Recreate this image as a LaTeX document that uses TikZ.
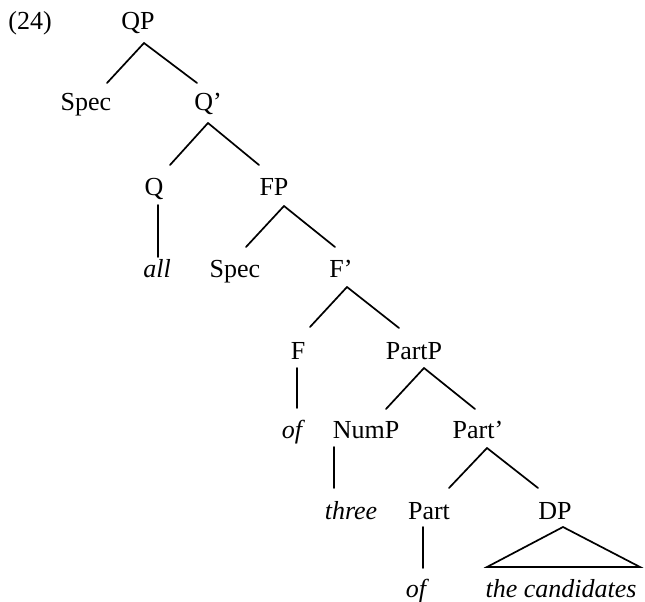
\documentclass[tikz,border=0pt]{standalone}
\usepackage{fontspec}
\setmainfont{Liberation Serif}
\usetikzlibrary{calc}
\begin{document}
\begin{tikzpicture}[x=1pt,y=-1pt,
  lbl/.style={anchor=base,inner sep=0pt,font=\fontsize{26}{30}\selectfont},
  lex/.style={lbl,font=\fontsize{26}{30}\selectfont\itshape},
  edge/.style={line width=1.7pt,line cap=round,line join=miter}]
\useasboundingbox (0,0) rectangle (645,602);
% labels
\node[lbl] (n24) at (30,30) {(24)};
\node[lbl] (QP) at (138,30) {QP};
\node[lbl] (Spec1) at (86,110) {Spec};
\node[lbl] (Qb) at (208,110) {Q’};
\node[lbl] (Q) at (154,195) {Q};
\node[lbl] (FP) at (274,195) {FP};
\node[lex] (all) at (157,277) {all};
\node[lbl] (Spec2) at (235,277) {Spec};
\node[lbl] (Fb) at (341,277) {F’};
\node[lbl] (F) at (298,359) {F};
\node[lbl] (PartP) at (414,359) {PartP};
\node[lex] (of1) at (292,438) {of};
\node[lbl] (NumP) at (366,438) {NumP};
\node[lbl] (Partb) at (478,438) {Part’};
\node[lex] (three) at (351,519) {three};
\node[lbl] (Part) at (429,519) {Part};
\node[lbl] (DP) at (555,519) {DP};
\node[lex] (of2) at (416,597) {of};
\node[lex] (cands) at (561,597) {the candidates};
% connectors
\draw[edge] ($(QP.base)+(6,13)$) -- ($(Spec1.base)+(21,-27)$);
\draw[edge] ($(QP.base)+(6,13)$) -- ($(Qb.base)+(-11,-27)$);
\draw[edge] ($(Qb.base)+(0,13)$) -- ($(Q.base)+(16,-30)$);
\draw[edge] ($(Qb.base)+(0,13)$) -- ($(FP.base)+(-15,-30)$);
\draw[edge] ($(Q.base)+(4,10)$) -- ($(all.base)+(1,-20)$);
\draw[edge] ($(FP.base)+(10,11)$) -- ($(Spec2.base)+(11,-30)$);
\draw[edge] ($(FP.base)+(10,11)$) -- ($(Fb.base)+(-6,-30)$);
\draw[edge] ($(Fb.base)+(6,10)$) -- ($(F.base)+(12,-32)$);
\draw[edge] ($(Fb.base)+(6,10)$) -- ($(PartP.base)+(-15,-31)$);
\draw[edge] ($(F.base)+(-1,9)$) -- ($(of1.base)+(5,-30)$);
\draw[edge] ($(PartP.base)+(10,9)$) -- ($(NumP.base)+(20,-29)$);
\draw[edge] ($(PartP.base)+(10,9)$) -- ($(Partb.base)+(-3,-29)$);
\draw[edge] ($(NumP.base)+(-32,9)$) -- ($(three.base)+(-17,-31)$);
\draw[edge] ($(Partb.base)+(9,10)$) -- ($(Part.base)+(20,-31)$);
\draw[edge] ($(Partb.base)+(9,10)$) -- ($(DP.base)+(-17,-31)$);
\draw[edge] ($(Part.base)+(-6,8)$) -- ($(of2.base)+(7,-29)$);
\draw[edge] ($(DP.base)+(8,8)$) -- ($(cands.base)+(-74,-30)$) -- ($(cands.base)+(79,-30)$) -- cycle;
\end{tikzpicture}
\end{document}
